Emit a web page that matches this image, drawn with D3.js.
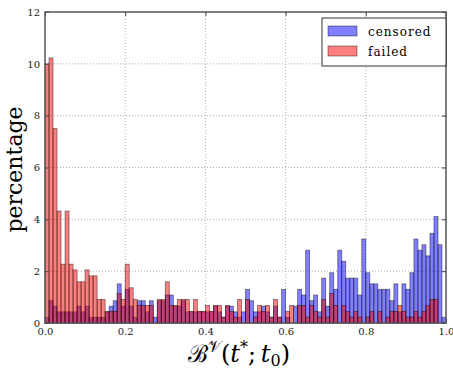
<!DOCTYPE html>
<html>
<head>
<meta charset="utf-8">
<script src="https://cdn.jsdelivr.net/npm/d3@7/dist/d3.min.js"></script>
<style>
  body { margin: 0; background: #fff; }
  svg { display: block; }
  .tick text { font-family: "DejaVu Serif", serif; font-size: 10px; fill: #222; }
</style>
</head>
<body>
<div id="chart"></div>
<script>
// histogram: 100 bins over [0, 1]
const binWidth = 0.01;
const binStarts = d3.range(100).map(i => i * binWidth);

const censored = [
  0.22, 0.86, 0.65, 0.43, 0.43, 0.43, 0.43, 0.43, 0.65, 0.43,
  0.65, 0.22, 0.22, 0.22, 0.22, 0.43, 0.65, 0.86, 1.51, 0.65,
  1.30, 0.65, 0.22, 0.86, 0.86, 0.43, 0.86, 0.22, 0.86, 0.86,
  1.08, 1.08, 0.65, 0.65, 0.86, 0.43, 0.43, 0.43, 0.43, 0.43,
  0.43, 0.43, 0.65, 0.43, 0.22, 0.65, 0.65, 0.43, 0.22, 0.43,
  1.30, 0.86, 0.43, 0.43, 0.65, 0.43, 0.22, 0.65, 0.22, 1.30,
  0.22, 0.00, 0.65, 1.30, 1.08, 2.81, 0.86, 1.08, 0.43, 1.73,
  0.65, 1.94, 1.30, 2.81, 2.38, 1.73, 1.73, 1.73, 1.08, 3.24,
  1.94, 1.51, 1.51, 1.30, 1.30, 1.30, 0.86, 1.51, 0.43, 1.51,
  1.30, 1.94, 3.24, 2.81, 3.02, 2.59, 3.46, 4.11, 3.02, 0.22
];

const failed = [
  10.00, 10.23, 7.50, 4.32, 2.27, 4.32, 2.27, 2.05, 1.59, 1.59,
  2.05, 1.82, 1.82, 0.91, 0.91, 0.45, 0.45, 0.45, 1.14, 0.91,
  2.27, 1.36, 0.91, 0.68, 0.68, 0.68, 0.68, 0.00, 0.91, 0.91,
  1.59, 0.68, 0.68, 0.91, 0.91, 0.91, 0.45, 0.91, 0.45, 0.45,
  0.68, 0.45, 0.68, 0.68, 0.23, 0.68, 0.45, 0.23, 0.91, 0.00,
  0.91, 0.00, 0.23, 0.68, 0.45, 0.68, 0.23, 0.91, 0.23, 0.00,
  0.45, 0.68, 0.00, 0.68, 0.68, 0.23, 0.68, 0.45, 0.23, 0.91,
  0.23, 1.14, 0.68, 0.00, 0.68, 0.45, 0.23, 0.45, 0.23, 0.00,
  0.23, 0.45, 0.00, 0.45, 0.00, 0.23, 0.45, 0.45, 0.68, 0.45,
  0.23, 0.23, 0.45, 0.23, 0.45, 0.68, 0.91, 0.91, 0.00, 0.00
];

const xTicks = [0, 0.2, 0.4, 0.6, 0.8, 1.0];
const yTicks = [0, 2, 4, 6, 8, 10, 12];
const seriesNames = ['censored', 'failed'];
const seriesColors = ['#0000ff', '#ff0000'];

const width = 453, height = 371;
const margin = { top: 12, right: 7, bottom: 48, left: 45 };

const svg = d3.select('#chart').append('svg')
  .attr('width', width)
  .attr('height', height);

const x = d3.scaleLinear().domain([0, 1]).range([margin.left, width - margin.right]);
const y = d3.scaleLinear().domain([0, 12]).range([height - margin.bottom, margin.top]);

// grid
const grid = svg.append('g').attr('stroke', '#999').attr('stroke-dasharray', '1,2').attr('stroke-width', 0.8);
grid.selectAll('.gx').data(xTicks.slice(1, -1)).enter().append('line')
  .attr('x1', d => x(d)).attr('x2', d => x(d))
  .attr('y1', y(0)).attr('y2', y(12));
grid.selectAll('.gy').data(yTicks.slice(1, -1)).enter().append('line')
  .attr('x1', x(0)).attr('x2', x(1))
  .attr('y1', d => y(d)).attr('y2', d => y(d));

// bars
[censored, failed].forEach((vals, k) => {
  svg.append('g').selectAll('rect')
    .data(vals.map((v, i) => ({ x0: binStarts[i], v })))
    .enter().append('rect')
    .attr('x', d => x(d.x0))
    .attr('width', d => x(d.x0 + binWidth) - x(d.x0))
    .attr('y', d => y(d.v))
    .attr('height', d => y(0) - y(d.v))
    .attr('fill', seriesColors[k])
    .attr('fill-opacity', 0.5)
    .attr('stroke', '#000')
    .attr('stroke-opacity', 0.5)
    .attr('stroke-width', 0.8);
});

// axes (ticks inside, on all four sides)
svg.append('g').attr('transform', `translate(0,${y(0)})`)
  .call(d3.axisBottom(x).tickValues(xTicks).tickFormat(d3.format('.1f')).tickSize(-4).tickPadding(5));
svg.append('g').attr('transform', `translate(0,${y(12)})`)
  .call(d3.axisTop(x).tickValues(xTicks).tickFormat('').tickSize(-4));
svg.append('g').attr('transform', `translate(${x(0)},0)`)
  .call(d3.axisLeft(y).tickValues(yTicks).tickSize(-4).tickPadding(5));
svg.append('g').attr('transform', `translate(${x(1)},0)`)
  .call(d3.axisRight(y).tickValues(yTicks).tickFormat('').tickSize(-4));
svg.selectAll('.domain').remove();
svg.selectAll('.tick line').attr('stroke', '#444');

svg.append('rect')
  .attr('x', x(0)).attr('y', y(12))
  .attr('width', x(1) - x(0)).attr('height', y(0) - y(12))
  .attr('fill', 'none').attr('stroke', '#555').attr('stroke-width', 1.5);

// axis labels
svg.append('text')
  .attr('transform', `translate(22,${(y(0) + y(12)) / 2 + 2}) rotate(-90)`)
  .attr('text-anchor', 'middle')
  .style('font-family', '"DejaVu Serif", serif')
  .style('font-size', '22px')
  .text('percentage');

const xl = svg.append('text')
  .attr('x', 239)
  .attr('y', 362)
  .attr('text-anchor', 'middle')
  .style('font-family', '"DejaVu Serif", serif')
  .style('font-size', '24px');
xl.append('tspan').text('ℬ');
xl.append('tspan').attr('dy', -10).style('font-size', '16px').text('𝒱');
xl.append('tspan').attr('dy', 10).text('(');
xl.append('tspan').style('font-style', 'italic').text('t');
xl.append('tspan').attr('dy', -9).style('font-size', '16px').text('*');
xl.append('tspan').attr('dy', 9).text(';\u2009');
xl.append('tspan').style('font-style', 'italic').text('t');
xl.append('tspan').attr('dy', 4).style('font-size', '16px').text('0');
xl.append('tspan').attr('dy', -4).text(')');

// legend
const legend = svg.append('g').attr('transform', `translate(${x(1) - 124},18)`);
legend.append('rect')
  .attr('width', 124).attr('height', 48)
  .attr('fill', '#fff').attr('stroke', '#000').attr('stroke-width', 0.8);
const items = legend.selectAll('.legend-item').data(seriesNames).enter().append('g')
  .attr('transform', (d, i) => `translate(6,${8 + i * 20})`);
items.append('rect')
  .attr('width', 29).attr('height', 10)
  .attr('fill', (d, i) => seriesColors[i]).attr('fill-opacity', 0.5)
  .attr('stroke', '#000').attr('stroke-opacity', 0.5).attr('stroke-width', 0.8);
items.append('text')
  .attr('x', 40).attr('y', 10)
  .style('font-family', '"DejaVu Serif", serif')
  .style('font-size', '12px')
  .style('letter-spacing', '1px')
  .text(d => d);
</script>
</body>
</html>
